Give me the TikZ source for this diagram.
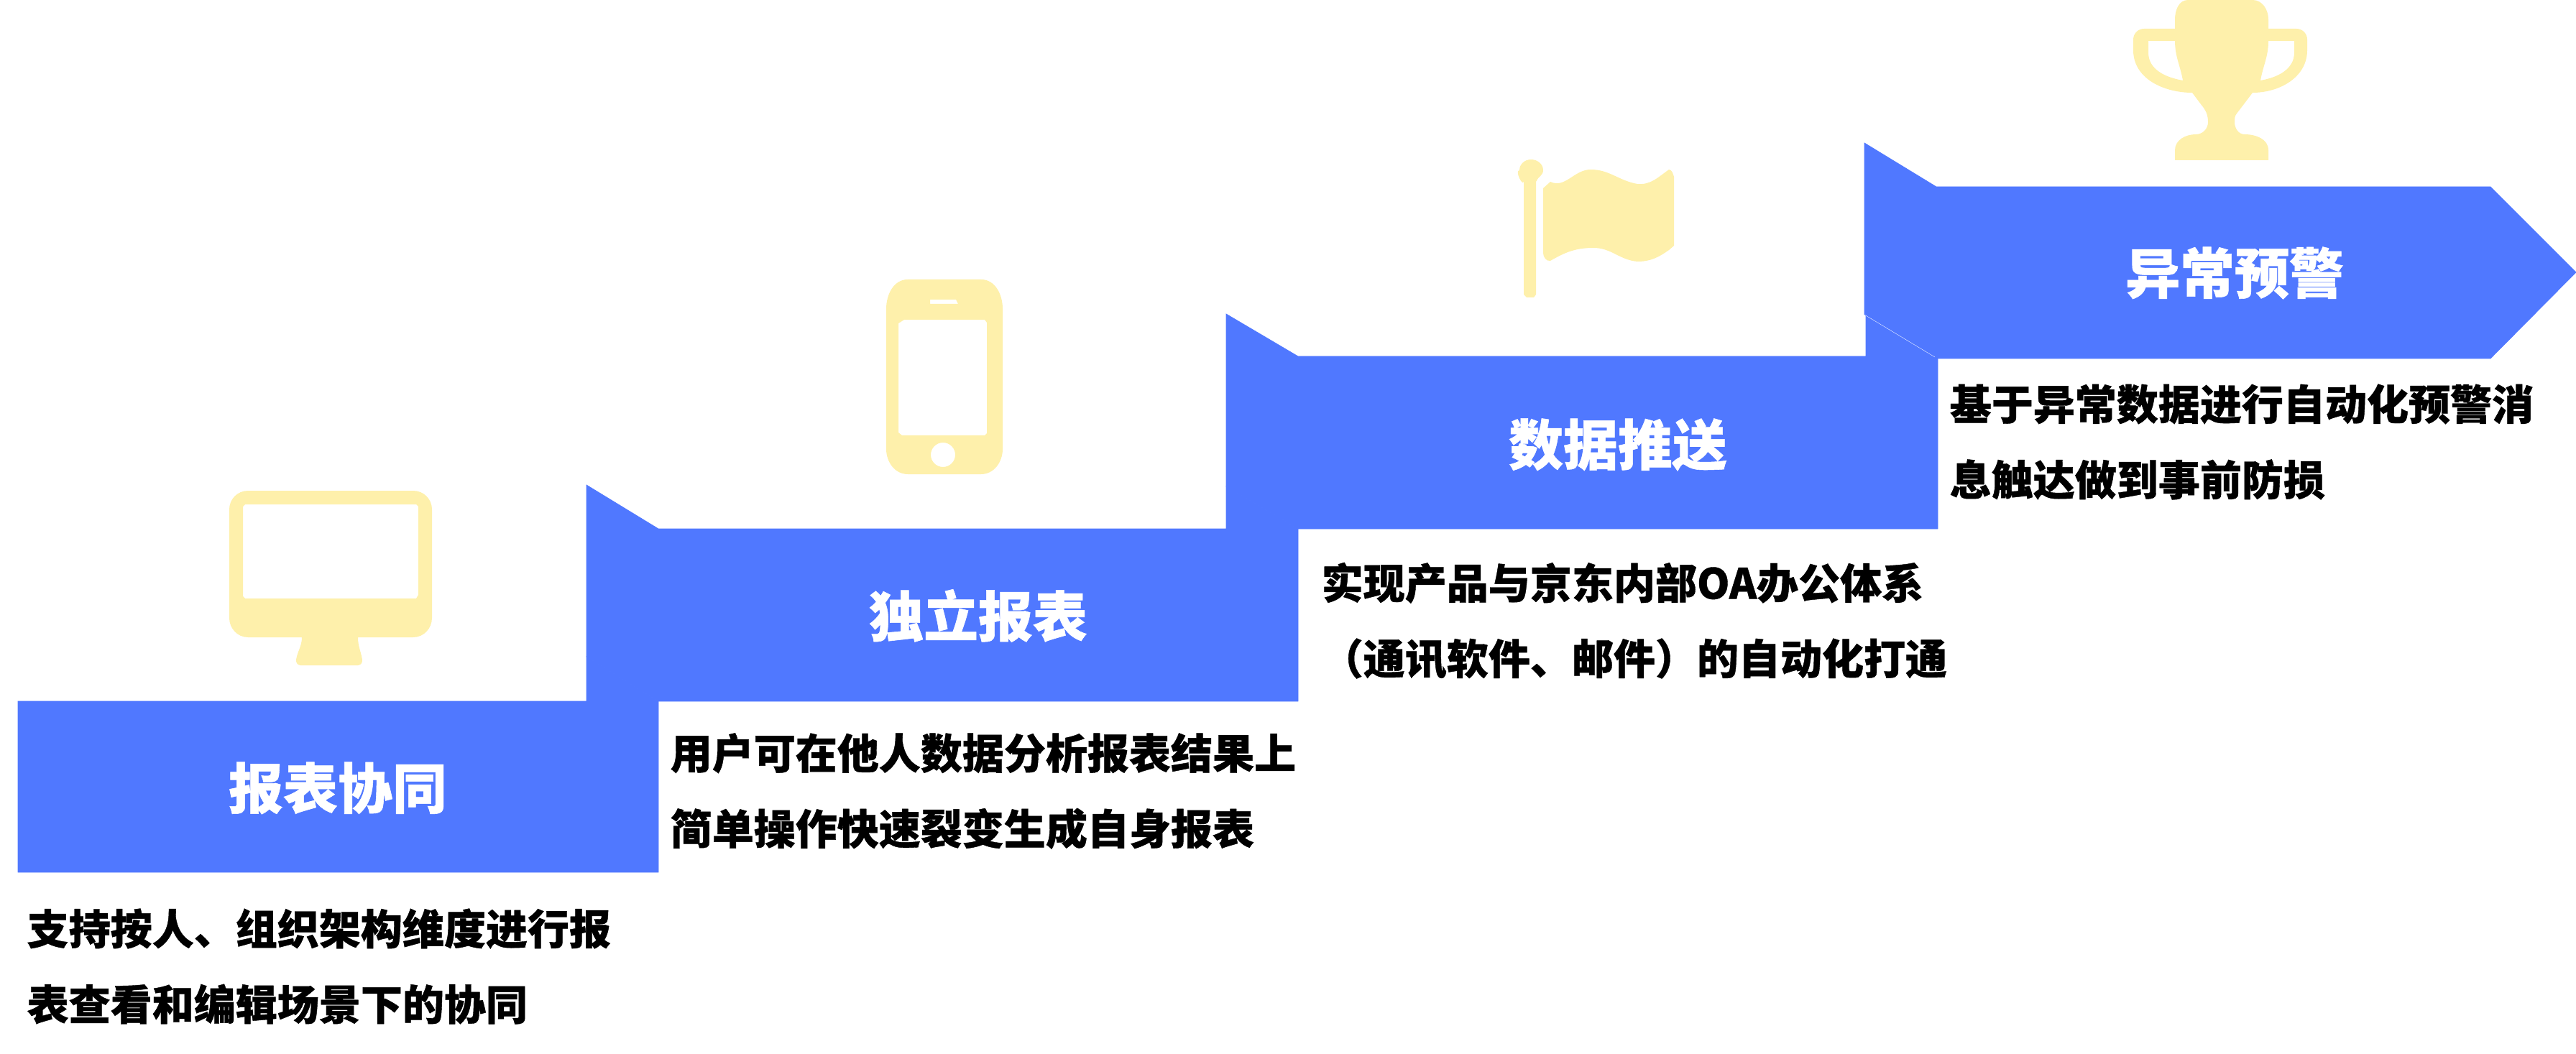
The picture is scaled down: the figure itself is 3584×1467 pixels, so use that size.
\documentclass[tikz,border=0pt]{standalone}
\usepackage{fontspec}
\setmainfont{Noto Sans CJK SC}[BoldFeatures={FakeBold=0.7}]
\usepackage{tikz,xcolor}
\definecolor{stepc}{HTML}{5078FF}
\definecolor{iconc}{HTML}{FEF0AB}
\tikzset{
  stepfill/.style={fill=stepc,draw=stepc,line width=.2pt},
  seam/.style={draw=white,line width=.1pt},
  icon/.style={fill=iconc,even odd rule},
  ttl/.style={text=white,inner sep=0pt,font=\bfseries\fontsize{21.6}{26}\selectfont},
  desc/.style={anchor=west,align=left,inner sep=0pt,text=black,font=\bfseries\fontsize{16.5}{29.9}\selectfont},
}

\begin{document}
\begin{tikzpicture}[x=0.01cm,y=-0.01cm]
\useasboundingbox (0,0) rectangle (3584,1467);
\path[stepfill] (25,976) -- (816,976) -- (816,914) -- (916,976) -- (916,1214) -- (25,1214) -- cycle;
\path[stepfill] (816,675) -- (916,736) -- (1706,736) -- (1706,677) -- (1806,736) -- (1806,976) -- (916,976) -- (816,914) -- cycle;
\path[stepfill] (1706,437) -- (1806,496) -- (2596,496) -- (2596,438) -- (2696,499) -- (2696,736) -- (1806,736) -- (1706,677) -- cycle;
\path[stepfill] (2594,199) -- (2694,260) -- (3465,260) -- (3584,379) -- (3465,499) -- (2696,499) -- (2594,438) -- cycle;
\draw[seam] (2594,438) -- (2692,497);
\node[ttl] (t1) at (470,1097) {报表协同};
\node[ttl] (t2) at (1361,857) {独立报表};
\node[ttl] (t3) at (2251,619) {数据推送};
\node[ttl] (t4) at (3109,380) {异常预警};
\node[desc] (d1) at (37,1345) {支持按人、组织架构维度进行报\\表查看和编辑场景下的协同};
\node[desc] (d2) at (932,1101) {用户可在他人数据分析报表结果上\\简单操作快速裂变生成自身报表};
\node[desc] (d3) at (1838,864) {实现产品与京东内部OA办公体系\\（通讯软件、邮件）的自动化打通};
\node[desc] (d4) at (2712,615) {基于异常数据进行自动化预警消\\息触达做到事前防损};
\fill[icon] (345,683) -- (575,683) to[out=0,in=90] (601,709) -- (601,860) to[out=-90,in=0] (575,887) -- (498,887)
  to[out=-90,in=100] (504,918) to[out=-80,in=0] (498,926) -- (418,926) to[out=180,in=-100] (412,918) to[out=80,in=-90] (420,887)
  -- (345,887) to[out=180,in=-90] (319,860) -- (319,709) to[out=90,in=180] (345,683) -- cycle
  (341,702) -- (579,702) -- (582,705) -- (582,828) -- (579,833) -- (341,833) -- (338,830) -- (338,705) -- cycle;
\fill[icon] (1263,389) -- (1365,389) to[out=0,in=90] (1395,430) -- (1395,625) to[out=-90,in=0] (1365,660) -- (1263,660)
  to[out=180,in=-90] (1233,625) -- (1233,430) to[out=90,in=180] (1263,389) -- cycle
  (1294,417) -- (1330,417) -- (1333,423) -- (1294,423) -- cycle
  (1258,445) -- (1370,445) -- (1373,449) -- (1373,603) -- (1370,606) -- (1255,606) -- (1250,602) -- (1250,450) -- cycle
  (1312,633) ellipse (17 and 17);
\fill[icon] (2120,253) to[out=-110,in=180] (2114,237) to[out=90,in=180] (2130,222) to[out=0,in=90] (2147,237)
  to[out=-90,in=70] (2137,253) -- (2137,410) -- (2134,414) -- (2124,414) -- (2120,410) -- cycle;
\fill[icon] (2147,262) -- (2157,253) to[out=-25,in=180] (2213,236) to[out=0,in=170] (2278,256) to[out=-5,in=215] (2322,236)
  to[out=-10,in=110] (2329,246) -- (2329,342) -- (2322,348) to[out=215,in=0] (2278,364) to[out=175,in=0] (2217,345)
  to[out=180,in=30] (2157,363) to[out=190,in=-90] (2147,352) -- cycle;
\fill[icon] (3044,0) -- (3134,0) to[out=0,in=90] (3156,27) -- (3156,40) -- (3195,40) to[out=0,in=90] (3210,55) -- (3210,70)
  to[out=-90,in=0] (3134,129) -- (3112,158) to[out=-130,in=90] (3109,170) to[out=-90,in=180] (3123,187)
  to[out=0,in=90] (3156,209) -- (3156,223) -- (3026,223) -- (3026,209) to[out=90,in=180] (3055,187) to[out=0,in=-90] (3072,170)
  to[out=90,in=-50] (3062,145) -- (3050,129) to[out=180,in=-90] (2968,70) -- (2968,55) to[out=90,in=180] (2983,40) -- (3026,40)
  -- (3026,27) to[out=90,in=180] (3044,0) -- cycle
  (2989,57) -- (3026,57) to[out=-90,in=100] (3037,112) to[out=170,in=-90] (2989,73) -- cycle
  (3192,57) -- (3156,57) to[out=-90,in=80] (3145,112) to[out=10,in=-90] (3192,73) -- cycle;
\end{tikzpicture}
\end{document}
